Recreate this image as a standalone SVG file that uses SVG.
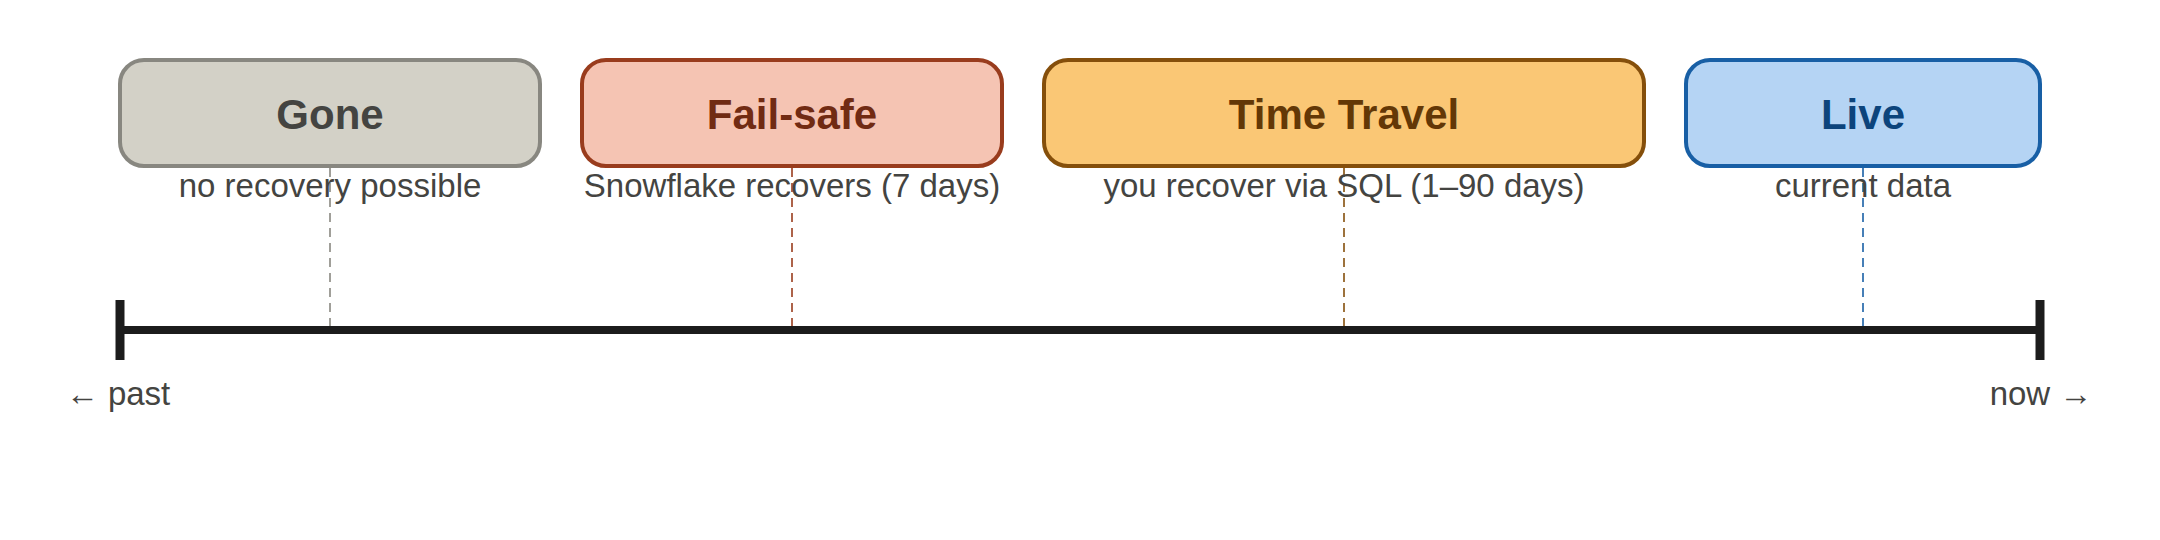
<svg xmlns="http://www.w3.org/2000/svg" width="2160" height="540" viewBox="0 0 2160 540">
  <style>
    .box { stroke-width: 4; }
    .title { font-family: "Liberation Sans", Arial, sans-serif; font-size: 42px; font-weight: bold; text-anchor: middle; }
    .sub { font-family: "Liberation Sans", Arial, sans-serif; font-size: 33px; fill: #444441; text-anchor: middle; }
    .drop { stroke-width: 2; stroke-dasharray: 9 6; stroke-opacity: 0.8; fill: none; }
    .axis { stroke: #1c1c1c; fill: none; }
  </style>
  <rect width="2160" height="540" fill="#ffffff"/>

  <g id="connectors">
    <line class="drop" x1="330" y1="168" x2="330" y2="328" stroke="#888780"/>
    <line class="drop" x1="792" y1="168" x2="792" y2="328" stroke="#993C1D"/>
    <line class="drop" x1="1344" y1="168" x2="1344" y2="328" stroke="#854F0B"/>
    <line class="drop" x1="1863" y1="168" x2="1863" y2="328" stroke="#185FA5"/>
  </g>

  <g id="timeline">
    <line class="axis" x1="120" y1="330" x2="2040" y2="330" stroke-width="8"/>
    <line class="axis" x1="120" y1="300" x2="120" y2="360" stroke-width="9"/>
    <line class="axis" x1="2040" y1="300" x2="2040" y2="360" stroke-width="9"/>
    <text class="sub" x="118" y="405">← past</text>
    <text class="sub" x="2041" y="405">now →</text>
  </g>

  <g id="gone">
    <rect class="box" x="120" y="60" width="420" height="106" rx="24" fill="#D3D1C7" stroke="#888780"/>
    <text class="title" x="330" y="129" fill="#444441">Gone</text>
    <text class="sub" x="330" y="197">no recovery possible</text>
  </g>

  <g id="failsafe">
    <rect class="box" x="582" y="60" width="420" height="106" rx="24" fill="#F5C4B3" stroke="#993C1D"/>
    <text class="title" x="792" y="129" fill="#712B13">Fail-safe</text>
    <text class="sub" x="792" y="197">Snowflake recovers (7 days)</text>
  </g>

  <g id="timetravel">
    <rect class="box" x="1044" y="60" width="600" height="106" rx="24" fill="#FAC775" stroke="#854F0B"/>
    <text class="title" x="1344" y="129" fill="#633806">Time Travel</text>
    <text class="sub" x="1344" y="197">you recover via SQL (1–90 days)</text>
  </g>

  <g id="live">
    <rect class="box" x="1686" y="60" width="354" height="106" rx="24" fill="#B5D4F4" stroke="#185FA5"/>
    <text class="title" x="1863" y="129" fill="#0C447C">Live</text>
    <text class="sub" x="1863" y="197">current data</text>
  </g>
</svg>
